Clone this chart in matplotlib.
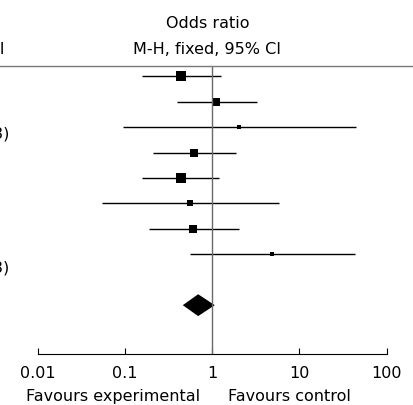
import numpy as np
import matplotlib
matplotlib.use("Agg")
import matplotlib.pyplot as plt
from matplotlib.lines import Line2D

# study rows: odds ratio with 95% CI, weights (%)
odds = [0.44, 1.10, 2.01, 0.62, 0.435, 0.56, 0.61, 4.81]
lower = [0.155, 0.39, 0.094, 0.21, 0.155, 0.055, 0.187, 0.56]
upper = [1.25, 3.24, 44.0, 1.86, 1.19, 5.79, 2.01, 43.0]
weights = [26.4, 12.9, 4.3, 12.9, 21.5, 6.6, 13.0, 2.4]

# pooled estimate (diamond)
pooled_or = 0.69
pooled_lo = 0.46
pooled_hi = 1.07

tick_vals = [0.01, 0.1, 1, 10, 100]
tick_labels = ["0.01", "0.1", "1", "10", "100"]

W, H = 414, 406
fig = plt.figure(figsize=(W / 100, H / 100), dpi=100)
ax = fig.add_axes([37.7 / W, 51 / H, 349 / W, 288 / H])

rows = np.arange(len(odds))
pooled_row = 9

# CI lines and weighted squares
for y, o, lo, hi, w in zip(rows, odds, lower, upper, weights):
    ax.plot([lo, hi], [y, y], color="black", lw=1.0, solid_capstyle="butt")
    side = np.sqrt(w / 100.0) * 19.5 * 0.72  # px -> pt
    ax.plot(o, y, marker="s", color="black", markersize=side, markeredgewidth=0)

# pooled diamond
h = 0.43
ax.fill([pooled_lo, pooled_or, pooled_hi, pooled_or],
        [pooled_row, pooled_row - h, pooled_row, pooled_row + h],
        color="black", lw=0)

ax.axvline(1, color="#6a6a6a", lw=1.0)

ax.set_xscale("log")
ax.set_xlim(0.01, 100)
ax.set_ylim(10.92, -0.405)
ax.set_xticks(tick_vals)
ax.set_xticklabels(tick_labels)
ax.xaxis.set_minor_locator(matplotlib.ticker.NullLocator())
ax.tick_params(axis="x", direction="in", length=4.5, width=0.8, pad=8,
               labelsize=11.5, colors="black")
ax.set_yticks([])
for s in ["top", "left", "right"]:
    ax.spines[s].set_visible(False)
ax.spines["bottom"].set_linewidth(0.8)

# favours labels
ax.annotate("Favours experimental", xy=(1, 0), xycoords=("data", "axes fraction"),
            xytext=(-12, -42), textcoords="offset pixels", ha="right", va="center",
            fontsize=11.5)
ax.annotate("Favours control", xy=(1, 0), xycoords=("data", "axes fraction"),
            xytext=(16, -42), textcoords="offset pixels", ha="left", va="center",
            fontsize=11.5)

# header
fig.text(207.5 / W, 1 - 24 / H, "Odds ratio", ha="center", va="center", fontsize=11.5)
fig.text(207.5 / W, 1 - 49 / H, "M-H, fixed, 95% CI", ha="center", va="center", fontsize=11.5)
# left column text, cropped at the edge as in the original figure
fig.text(5 / W, 1 - 49 / H, "95% CI", ha="right", va="center", fontsize=11.5)
fig.text(9 / W, 1 - 134 / H, "(P = 0.83)", ha="right", va="center", fontsize=11.5)
fig.text(9 / W, 1 - 268 / H, "(P = 0.23)", ha="right", va="center", fontsize=11.5)
fig.add_artist(Line2D([0, 1], [1 - 66.7 / H, 1 - 66.7 / H], transform=fig.transFigure,
                      color="#777777", lw=1.0))

fig.savefig("out.png", dpi=100)
